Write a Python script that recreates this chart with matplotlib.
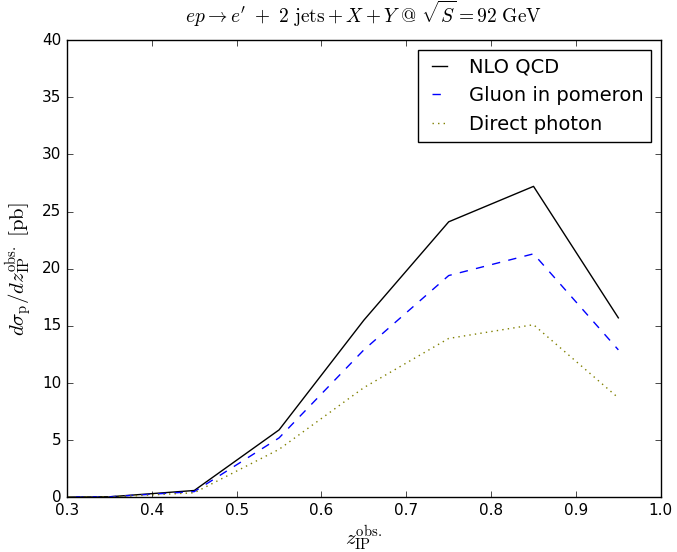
import numpy as np
import matplotlib.pyplot as plt

plt.style.use('classic')
plt.rcParams['mathtext.fontset'] = 'cm'

# bin centres of z_IP^obs
z = [0.25, 0.35, 0.45, 0.55, 0.65, 0.75, 0.85, 0.95]

# dsigma/dz in pb
nlo_qcd = [0.0, 0.05, 0.6, 5.9, 15.5, 24.1, 27.2, 15.7]
gluon_pomeron = [0.0, 0.05, 0.5, 5.2, 12.9, 19.4, 21.3, 12.9]
direct_photon = [0.0, 0.03, 0.4, 4.2, 9.6, 13.9, 15.1, 8.7]

fig = plt.figure(figsize=(6.77, 5.52), dpi=100, facecolor='white')
ax = fig.add_axes([0.099, 0.099, 0.877, 0.8285])

ax.plot(z, nlo_qcd, 'k-', label='NLO QCD')
ax.plot(z, gluon_pomeron, 'b--', label='Gluon in pomeron')
ax.plot(z, direct_photon, ':', color='olive', label='Direct photon')

ax.set_xlim(0.3, 1.0)
ax.set_ylim(0, 40)
ax.tick_params(labelsize=11)
ax.set_xlabel(r'$z_{\mathrm{IP}}^{\mathrm{obs.}}$', fontsize=15, labelpad=4)
ax.set_ylabel(r'$d\sigma_{\mathrm{p}}/dz_{\mathrm{IP}}^{\mathrm{obs.}}\ [\mathrm{pb}]$', fontsize=15)
ax.set_title(r'$ep \rightarrow e^{\prime}\ +\ 2\ \mathrm{jets} + X + Y\ @\ \sqrt{S} = 92\ \mathrm{GeV}$',
             fontsize=14, pad=12)
ax.legend(loc='upper right', fontsize=14, handlelength=1.4)

fig.savefig('out.png', dpi=100, facecolor='white')
